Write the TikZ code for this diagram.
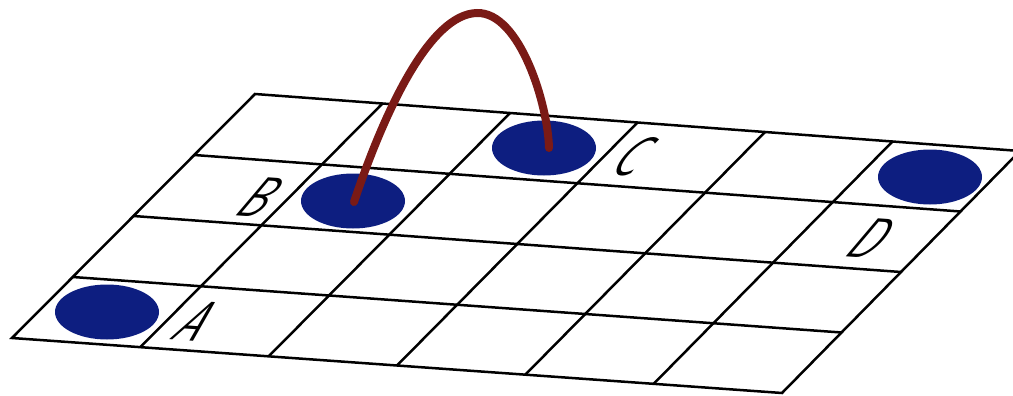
\documentclass[tikz,border=0pt]{standalone}
\usepackage{fontspec}
\usetikzlibrary{calc,shapes.geometric}
\definecolor{stone}{RGB}{13,30,128}
\definecolor{arcred}{RGB}{122,26,22}
\tikzset{
  gridline/.style={line width=2.5pt, black},
  stone/.style={ellipse, fill=stone, draw=none, minimum width=104pt, minimum height=55pt, inner sep=0pt},
  planelabel/.style={font=\sffamily\fontsize{58}{58}\selectfont, inner sep=0pt, yslant=-0.07, xslant=0.8, xscale=0.72},
  jump/.style={draw=arcred, line width=8pt, line cap=round}
}
\begin{document}
\begin{tikzpicture}[x=1pt,y=-1pt]
\useasboundingbox (0,0) rectangle (1013,396);
\begin{scope}
\clip (0,0) rectangle (1013,396);
\coordinate (TL) at (255,94);
\coordinate (TR) at (1020,151);
\coordinate (BL) at (12,338);
\coordinate (BR) at (782,393);
\foreach \i in {1,2,3} {
  \draw[gridline] ($(TL)!\i/4!(BL)$) -- ($(TR)!\i/4!(BR)$);
}
\foreach \j in {1,...,5} {
  \draw[gridline] ($(TL)!\j/6!(TR)$) -- ($(BL)!\j/6!(BR)$);
}
\draw[gridline, line join=miter] (TL) -- (TR) -- (BR) -- (BL) -- cycle;

\node[stone] (sa) at (107,312) {};
\node[stone] (sb) at (353,201) {};
\node[stone] (sc) at (544,148) {};
\node[stone] (sd) at (930,177) {};

\node[planelabel] (la) at (198,321) {A};
\node[planelabel] (lb) at (262,197) {B};
\node[planelabel] (lc) at (635,157) {C};
\node[planelabel] (ld) at (873,238) {D};

\coordinate (pb) at (354,202);
\coordinate (top) at (477,13);
\coordinate (pc) at (549,148);
\draw[jump] (pb) .. controls (385,110) and (430,14) .. (top) .. controls (520,12) and (548,105) .. (pc);
\end{scope}
\end{tikzpicture}
\end{document}
